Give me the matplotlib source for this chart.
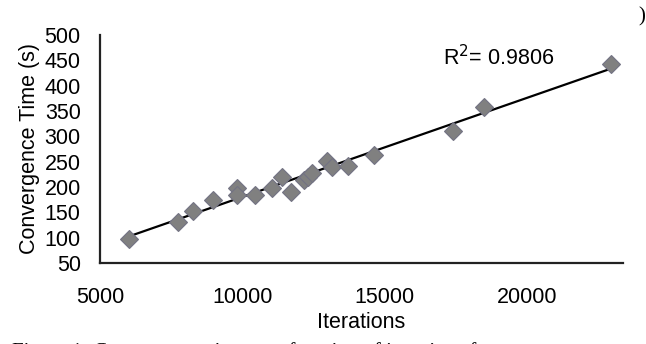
import numpy as np
import matplotlib.pyplot as plt

iterations = [6000, 7750, 8250, 8950, 9800, 9800, 10450, 11030, 11380, 11700,
              12170, 12300, 12460, 12990, 13150, 13720, 14630, 17400, 18490, 22950]
conv_time = [98, 130, 152, 174, 197, 184, 184, 197, 219, 191,
             214, 220, 227, 251, 240, 241, 264, 311, 358, 442]
r2_text = 'R$^{2}$= 0.9806'
caption = 'Figure 1: Convergence time as a function of iterations for every run'

plt.rcParams['font.family'] = ['Liberation Sans', 'DejaVu Sans']

fig = plt.figure(figsize=(6.46, 3.44), dpi=100)
ax = fig.add_axes([0.155, 0.2355, 0.809, 0.663])

# linear trend line over the data range
coef = np.polyfit(iterations, conv_time, 1)
xs = np.array([min(iterations), max(iterations)])
ax.plot(xs, np.polyval(coef, xs), color='black', lw=1.6, zorder=2)

ax.plot(iterations, conv_time, linestyle='none', marker='D', ms=9.5,
        mfc='#808080', mec='#737384', mew=0.8, zorder=3)

ax.set_xlim(5000, 23370)
ax.set_ylim(50, 500)
ax.set_xticks([5000, 10000, 15000, 20000])
ax.set_yticks(range(50, 501, 50))
ax.tick_params(length=0, labelsize=15.5)
ax.tick_params(axis='y', pad=14)
ax.tick_params(axis='x', pad=17)
for s in ['top', 'right']:
    ax.spines[s].set_visible(False)
for s in ['left', 'bottom']:
    ax.spines[s].set_linewidth(1.6)
    ax.spines[s].set_color('#222222')

ax.set_xlabel('Iterations', fontsize=15.5, labelpad=3)
ax.set_ylabel('Convergence Time (s)', fontsize=15.5, labelpad=3)

fig.text(443 / 646, 1 - 58 / 344, r2_text, fontsize=15.5, va='center', ha='left')
fig.text(642 / 646, 1 - 17 / 344, ')', fontsize=15, family='Liberation Serif',
         va='center', ha='center')
# caption of the source figure, only its top edge shows in the crop
fig.text(12 / 646, 1 - 352 / 344, caption, fontsize=15, family='Liberation Serif',
         va='center', ha='left')

fig.savefig('out.png', dpi=100)
